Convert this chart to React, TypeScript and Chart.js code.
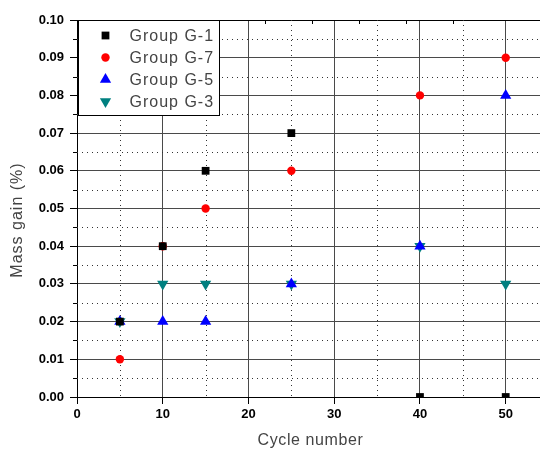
import React, { useEffect, useRef } from 'react';
import { Chart, registerables } from 'chart.js';
import { drawPoint } from 'chart.js/helpers';

Chart.register(...registerables);

const cycles = [5, 10, 15, 25, 40, 50];
const groupG1 = [0.02, 0.04, 0.06, 0.07, 0.0, 0.0];
const groupG7 = [0.01, 0.04, 0.05, 0.06, 0.08, 0.09];
const groupG5 = [0.02, 0.02, 0.02, 0.03, 0.04, 0.08];
const groupG3 = [0.02, 0.03, 0.03, 0.03, 0.04, 0.03];
const seriesNames = ['Group G-1', 'Group G-7', 'Group G-5', 'Group G-3'];
const xMinorTicks = [5, 15, 25, 35, 45];
const yMinorTicks = [0.005, 0.015, 0.025, 0.035, 0.045, 0.055, 0.065, 0.075, 0.085, 0.095];
const xTitle = 'Cycle number';
const yTitle = 'Mass gain (%)';

const FONT = '"Liberation Sans", Arial, sans-serif';
const TEXT_GRAY = '#444';

const overlayPlugin = {
  id: 'overlay',
  beforeDatasetsDraw(chart: any) {
    const { ctx, chartArea: ca, scales } = chart;
    const x = scales.x;
    const y = scales.y;
    const x2 = scales.x2;
    ctx.save();
    ctx.strokeStyle = '#333';
    ctx.lineWidth = 1;
    ctx.setLineDash([1, 4]);
    for (const v of xMinorTicks) {
      const px = Math.round(x.getPixelForValue(v)) + 0.5;
      if (px > ca.right) continue;
      ctx.beginPath();
      ctx.moveTo(px, ca.top);
      ctx.lineTo(px, ca.bottom);
      ctx.stroke();
    }
    for (const v of yMinorTicks) {
      const py = Math.round(y.getPixelForValue(v)) + 0.5;
      ctx.beginPath();
      ctx.moveTo(ca.left, py);
      ctx.lineTo(ca.right, py);
      ctx.stroke();
    }
    ctx.setLineDash([]);
    ctx.strokeStyle = '#000';
    for (const v of yMinorTicks) {
      const py = Math.round(y.getPixelForValue(v)) + 0.5;
      ctx.beginPath();
      ctx.moveTo(ca.left - 4, py);
      ctx.lineTo(ca.left, py);
      ctx.stroke();
    }
    if (x2) {
      for (const t of x2.ticks) {
        const px = Math.round(x2.getPixelForValue(t.value)) + 0.5;
        if (px <= ca.left + 1 || px > ca.right) continue;
        ctx.beginPath();
        ctx.moveTo(px, ca.top);
        ctx.lineTo(px, ca.top + 4);
        ctx.stroke();
      }
    }
    ctx.restore();
  },
  afterDraw(chart: any) {
    const { ctx, chartArea: ca } = chart;
    ctx.save();
    // legend box
    const bx = ca.left + 1.5;
    const by = ca.top + 0.5;
    const bw = 141;
    const bh = 95;
    ctx.fillStyle = '#fff';
    ctx.fillRect(bx, by, bw, bh);
    ctx.strokeStyle = '#000';
    ctx.lineWidth = 1;
    ctx.strokeRect(bx, by, bw, bh);
    ctx.font = `16px ${FONT}`;
    (ctx as any).letterSpacing = '1px';
    ctx.textBaseline = 'middle';
    ctx.textAlign = 'left';
    chart.data.datasets.forEach((ds: any, i: number) => {
      const cy = by + 15 + i * 22;
      const cx = bx + 27;
      ctx.fillStyle = ds.backgroundColor;
      ctx.strokeStyle = ds.backgroundColor;
      drawPoint(ctx, {
        pointStyle: ds.pointStyle,
        rotation: ds.pointRotation || 0,
        radius: ds.pointRadius,
        borderWidth: 0,
      }, cx, cy);
      ctx.fillStyle = TEXT_GRAY;
      ctx.fillText(seriesNames[i], bx + 51, cy + 1);
    });
    // axis titles
    ctx.fillStyle = TEXT_GRAY;
    ctx.textAlign = 'center';
    ctx.textBaseline = 'middle';
    (ctx as any).letterSpacing = '0.6px';
    ctx.fillText(xTitle, (ca.left + ca.right) / 2 + 2, 441);
    ctx.save();
    ctx.translate(18, 220);
    ctx.rotate(-Math.PI / 2);
    (ctx as any).letterSpacing = '1px';
    ctx.fillText(yTitle, 0, 0);
    ctx.restore();
    ctx.restore();
  },
};

export default function App() {
  const ref = useRef<HTMLCanvasElement | null>(null);
  useEffect(() => {
    document.body.style.margin = '0';
    if (!ref.current) return;
    const mk = (vals: number[]) => cycles.map((c, i) => ({ x: c, y: vals[i] }));
    const chart = new Chart(ref.current, {
      type: 'scatter',
      data: {
        datasets: [
          { label: seriesNames[0], data: mk(groupG1), pointStyle: 'rect', pointRadius: 5.5, backgroundColor: '#000000', borderWidth: 0 } as any,
          { label: seriesNames[1], data: mk(groupG7), pointStyle: 'circle', pointRadius: 4.2, backgroundColor: '#ff0000', borderWidth: 0 } as any,
          { label: seriesNames[2], data: mk(groupG5), pointStyle: 'triangle', pointRadius: 6.5, backgroundColor: '#0000ff', borderWidth: 0 } as any,
          { label: seriesNames[3], data: mk(groupG3), pointStyle: 'triangle', pointRotation: 180, pointRadius: 6.5, backgroundColor: '#008080', borderWidth: 0 } as any,
        ],
      },
      options: {
        animation: false,
        responsive: false,
        layout: { padding: 0, autoPadding: false },
        plugins: { legend: { display: false }, tooltip: { enabled: false }, title: { display: false } },
        scales: {
          x: {
            type: 'linear',
            position: 'bottom',
            min: 0,
            max: 54,
            ticks: {
              stepSize: 10,
              includeBounds: false,
              color: '#000',
              font: { family: FONT, size: 13, weight: 'bold' },
              padding: 3,
              maxRotation: 0,
            },
            grid: { color: '#4a4a4a', lineWidth: 1, tickLength: 7, tickColor: '#000' },
            border: { color: '#000', width: 1 },
            afterFit: (s: any) => { s.height = 57; s.paddingRight = 0; s.paddingLeft = 0; },
          },
          x2: {
            type: 'linear',
            axis: 'x',
            position: 'top',
            min: 0,
            max: 9.85,
            ticks: { display: false, stepSize: 1 },
            grid: { drawOnChartArea: false, drawTicks: false },
            border: { color: '#000', width: 1 },
            afterFit: (s: any) => { s.height = 20; s.paddingRight = 0; s.paddingLeft = 0; },
          },
          y: {
            type: 'linear',
            min: 0,
            max: 0.1,
            ticks: {
              stepSize: 0.01,
              color: '#000',
              font: { family: FONT, size: 13, weight: 'bold' },
              padding: 6,
              callback: (v: any) => Number(v).toFixed(2),
            },
            grid: { color: '#4a4a4a', lineWidth: 1, tickLength: 7, tickColor: '#000' },
            border: { color: '#000', width: 1 },
            afterFit: (s: any) => { s.width = 77; s.paddingTop = 0; s.paddingBottom = 0; },
          },
        },
      } as any,
      plugins: [overlayPlugin],
    });
    return () => chart.destroy();
  }, []);
  return (
    <div style={{ width: 540, height: 454, background: '#fff' }}>
      <canvas ref={ref} width={540} height={454} style={{ display: 'block' }} />
    </div>
  );
}
